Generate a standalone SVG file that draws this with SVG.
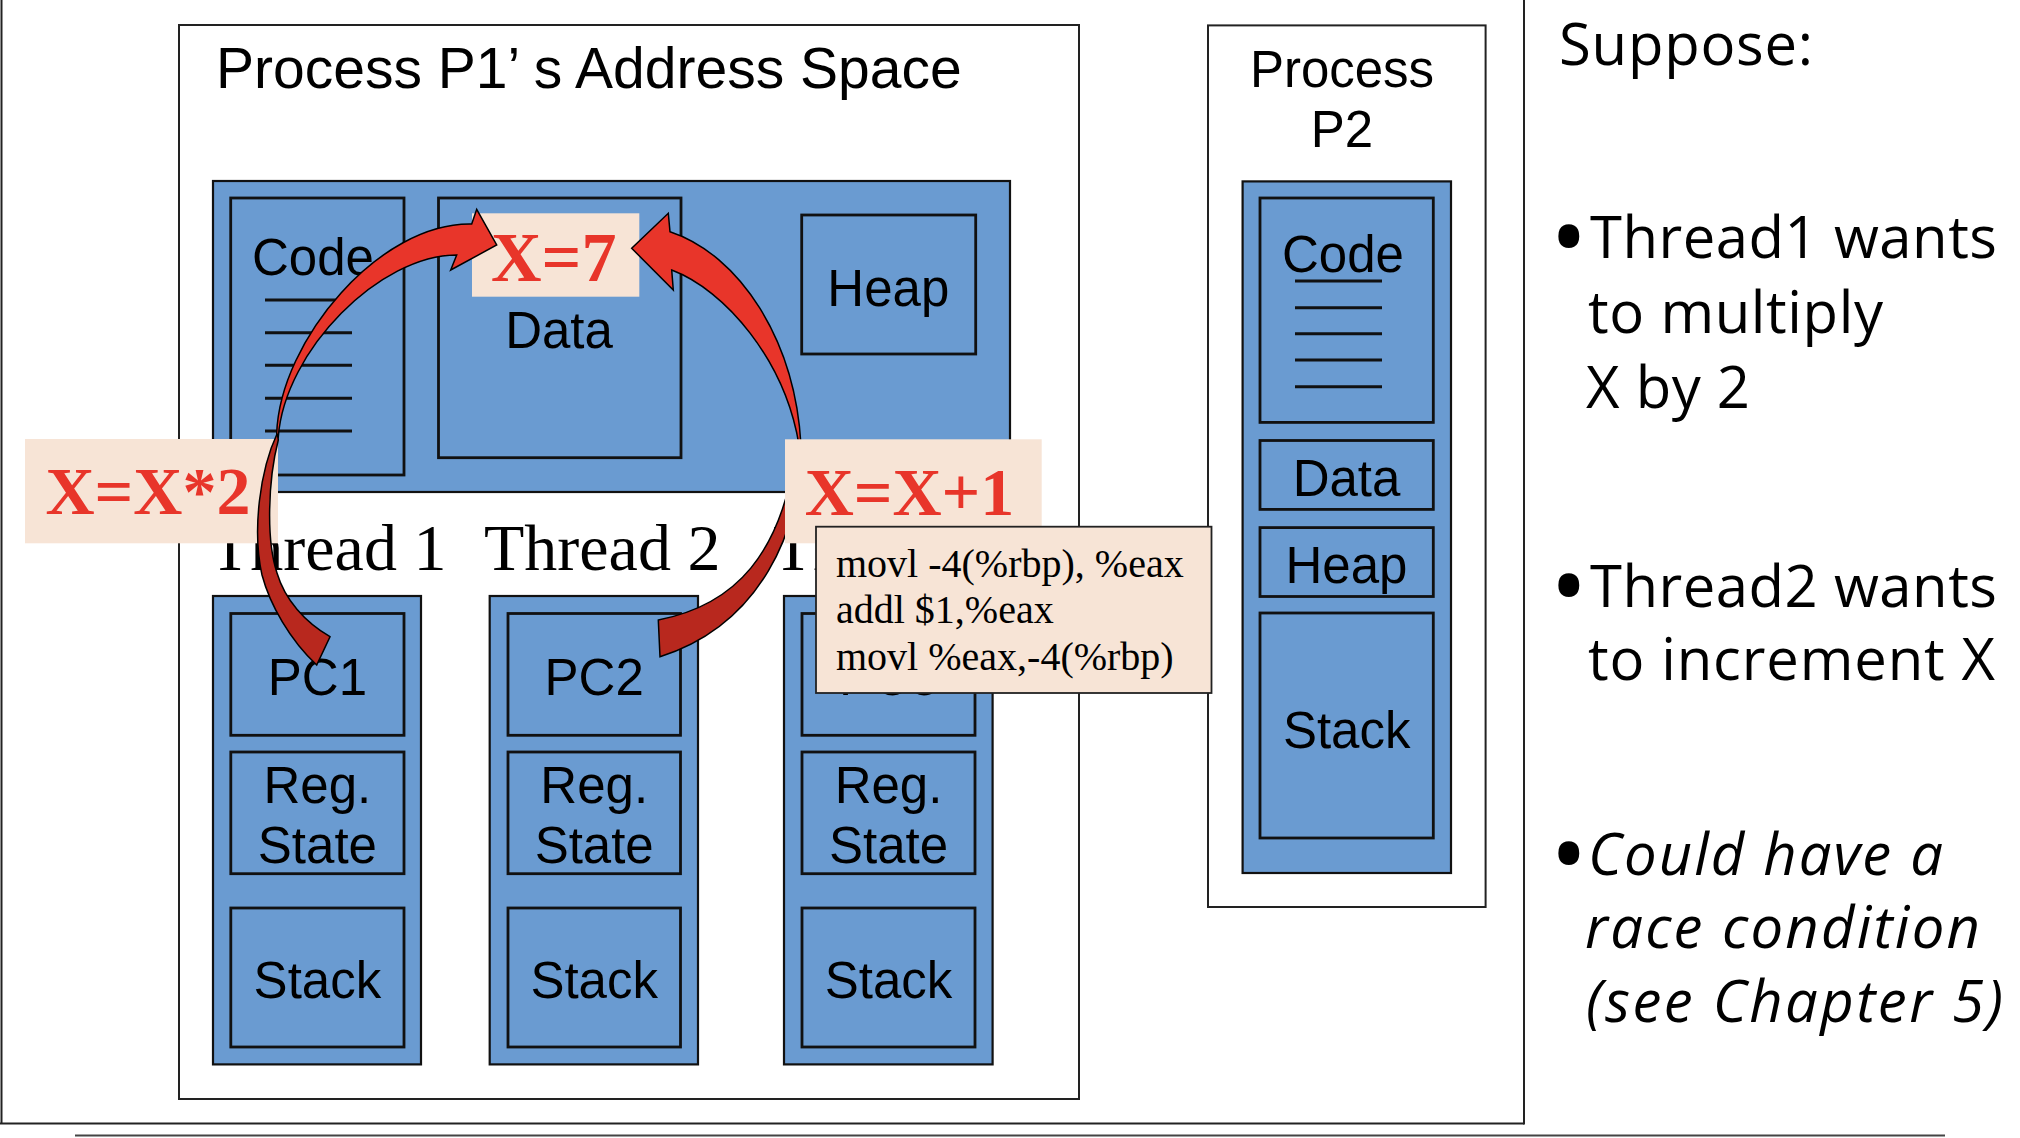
<svg xmlns="http://www.w3.org/2000/svg" width="2020" height="1138" viewBox="0 0 2020 1138">
<style>
.frame{fill:none;stroke:#222;stroke-width:2}
.proc{fill:#fff;stroke:#222;stroke-width:2}
.blue{fill:#6A9BD1;stroke:#111;stroke-width:2.2}
.box{fill:#6A9BD1;stroke:#111;stroke-width:2.8}
.ln{stroke:#111;stroke-width:3}
.sans{font-family:"Liberation Sans",Arial,sans-serif;fill:#000}
.serif{font-family:"Liberation Serif","Times New Roman",serif;fill:#000}
.lbl{font-size:51px;text-anchor:middle}
.red{font-family:"Liberation Serif","Times New Roman",serif;font-weight:bold;fill:#E8352A}
.peach{fill:#F7E4D6}
.side{font-family:"Open Sans","Noto Sans",sans-serif;font-size:58px;fill:#000}
.bul{font-family:"Open Sans","Noto Sans",sans-serif;font-size:100px;fill:#000}
.arrF{fill:#E8352A;stroke:#000;stroke-width:1.5;stroke-linejoin:miter}
.arrB{fill:#B8281E;stroke:#000;stroke-width:1.5}
</style>

<g id="slide-frame">
<line class="frame" x1="1.5" y1="0" x2="1.5" y2="1123.5"/>
<line class="frame" x1="0" y1="1123.5" x2="1524" y2="1123.5"/>
<line class="frame" x1="1524" y1="0" x2="1524" y2="1124.5"/>
</g>

<g id="p1">
<rect class="proc" x="179" y="25" width="900" height="1074"/>
<text class="sans" x="216" y="87.5" font-size="57">Process P1’ s Address Space</text>
</g>

<g id="p1-mem">
<rect class="blue" x="213" y="181" width="797" height="311"/>
<g id="p1-code">
<rect class="box" x="230.7" y="198" width="173.3" height="277"/>
<text class="sans lbl" x="313" y="275" font-size="50">Code</text>
<line class="ln" x1="265" y1="300" x2="352" y2="300"/>
<line class="ln" x1="265" y1="332.7" x2="352" y2="332.7"/>
<line class="ln" x1="265" y1="365.3" x2="352" y2="365.3"/>
<line class="ln" x1="265" y1="398.3" x2="352" y2="398.3"/>
<line class="ln" x1="265" y1="431" x2="352" y2="431"/>
</g>
<g id="p1-data">
<rect class="box" x="438.5" y="198" width="242.5" height="259.7"/>
<text class="sans lbl" x="559" y="348" font-size="50">Data</text>
</g>
<g id="p1-heap">
<rect class="box" x="801.7" y="215" width="174" height="139"/>
<text class="sans lbl" x="888.3" y="306" font-size="50">Heap</text>
</g>
</g>

<g id="thread-labels">
<text class="serif" x="210" y="570" font-size="66">Thread 1</text>
<text class="serif" x="484" y="570" font-size="66">Thread 2</text>
<text class="serif" x="773" y="570" font-size="66">Thread 3</text>
</g>

<g id="thread1">
<rect class="blue" x="213" y="596" width="208" height="468.4"/>
<rect class="box" x="230.8" y="613.5" width="173.2" height="121.8"/>
<text class="sans lbl" x="317.4" y="694.5">PC1</text>
<rect class="box" x="230.8" y="752" width="173.2" height="121.7"/>
<text class="sans lbl" x="317.4" y="803">Reg.</text>
<text class="sans lbl" x="317.4" y="863.4">State</text>
<rect class="box" x="230.8" y="908" width="173.2" height="139"/>
<text class="sans lbl" x="317.4" y="997.7">Stack</text>
</g>

<g id="thread2">
<rect class="blue" x="489.7" y="596" width="208.3" height="468.4"/>
<rect class="box" x="508" y="613.5" width="172.5" height="121.8"/>
<text class="sans lbl" x="594.2" y="694.5">PC2</text>
<rect class="box" x="508" y="752" width="172.5" height="121.7"/>
<text class="sans lbl" x="594.2" y="803">Reg.</text>
<text class="sans lbl" x="594.2" y="863.4">State</text>
<rect class="box" x="508" y="908" width="172.5" height="139"/>
<text class="sans lbl" x="594.2" y="997.7">Stack</text>
</g>

<g id="thread3">
<rect class="blue" x="784" y="596" width="208.6" height="468.4"/>
<rect class="box" x="802" y="613.5" width="173" height="121.8"/>
<text class="sans lbl" x="888.5" y="694.5">PC3</text>
<rect class="box" x="802" y="752" width="173" height="121.7"/>
<text class="sans lbl" x="888.5" y="803">Reg.</text>
<text class="sans lbl" x="888.5" y="863.4">State</text>
<rect class="box" x="802" y="908" width="173" height="139"/>
<text class="sans lbl" x="888.5" y="997.7">Stack</text>
</g>

<g id="x7">
<rect class="peach" x="472" y="213.3" width="167.3" height="83.4"/>
<text class="red" x="553.8" y="280.7" font-size="70" text-anchor="middle">X=7</text>
</g>

<g id="xmul">
<rect class="peach" x="25" y="439" width="253" height="104.3"/>
<text class="red" x="148" y="514" font-size="68" text-anchor="middle">X=X*2</text>
</g>

<g id="p2">
<rect class="proc" x="1208" y="25.4" width="277.6" height="881.6"/>
<text class="sans" x="1342" y="87" font-size="51" text-anchor="middle">Process</text>
<text class="sans" x="1342" y="147.3" font-size="51" text-anchor="middle">P2</text>
<rect class="blue" x="1242.6" y="181.4" width="208.4" height="691.6"/>
<g id="p2-code">
<rect class="box" x="1260" y="198" width="173.3" height="224.4"/>
<text class="sans lbl" x="1343" y="272" font-size="50">Code</text>
<line class="ln" x1="1295" y1="281" x2="1382" y2="281"/>
<line class="ln" x1="1295" y1="307.7" x2="1382" y2="307.7"/>
<line class="ln" x1="1295" y1="333.8" x2="1382" y2="333.8"/>
<line class="ln" x1="1295" y1="360" x2="1382" y2="360"/>
<line class="ln" x1="1295" y1="386.8" x2="1382" y2="386.8"/>
</g>
<g id="p2-data">
<rect class="box" x="1260" y="440.5" width="173.3" height="68.9"/>
<text class="sans lbl" x="1346.5" y="495.6" font-size="50">Data</text>
</g>
<g id="p2-heap">
<rect class="box" x="1260" y="527.6" width="173.3" height="68.9"/>
<text class="sans lbl" x="1346.5" y="582.7" font-size="50">Heap</text>
</g>
<g id="p2-stack">
<rect class="box" x="1260" y="613" width="173.3" height="225"/>
<text class="sans lbl" x="1346.7" y="747.5" font-size="50">Stack</text>
</g>
</g>

<g id="connectors">
<g id="arrow-t1">
<path class="arrB" d="M277.3,433.3 C260,470 252,530 262,575 C270,605 290,640 316.7,665 L330,636.7 C305,622 285,600 277,573 C266,540 268,480 278.3,440 Z"/>
<path class="arrF" d="M456.7,255 L450.7,270 L496.7,245 L476.7,209.3 L471.7,224 C380,222 280,340 276.7,433.3 L278.3,436.7 C285,350 380,255 456.7,255 Z"/>
</g>
<g id="arrow-t2">
<path class="arrB" d="M801,445 C802,530 760,625 660,656.7 L658.3,620 C735,605 782,555 797,445 Z"/>
<path class="arrF" d="M671.7,270 L673.3,290 L631.7,248.3 L668.3,213.3 L670,231.7 C740,255 795,340 801,445 L799,445 C785,360 725,290 671.7,270 Z"/>
</g>
</g>

<g id="xinc">
<rect class="peach" x="785" y="439.3" width="256.7" height="104"/>
<text class="red" x="909.5" y="515" font-size="68" text-anchor="middle">X=X+1</text>
</g>

<g id="asm">
<rect fill="#F7E4D6" stroke="#222" stroke-width="1.8" x="816" y="526.7" width="395.5" height="166.3"/>
<text class="serif" x="836" y="577" font-size="40">movl -4(%rbp), %eax</text>
<text class="serif" x="836" y="623" font-size="40">addl $1,%eax</text>
<text class="serif" x="836" y="670" font-size="40">movl %eax,-4(%rbp)</text>
</g>

<g id="notes">
<text class="side" x="1559" y="65" font-size="60" textLength="254">Suppose:</text>
<text class="bul" x="1550" y="273">•</text>
<text class="side" x="1590" y="258.3" textLength="407">Thread1 wants</text>
<text class="side" x="1588" y="333.3" textLength="295">to multiply</text>
<text class="side" x="1586" y="408.3" textLength="164">X by 2</text>
<text class="bul" x="1550" y="621.5">•</text>
<text class="side" x="1590" y="606.7" textLength="407">Thread2 wants</text>
<text class="side" x="1588" y="680" textLength="407">to increment X</text>
<text class="bul" x="1550" y="890">•</text>
<text class="side" x="1588" y="875" font-style="italic" textLength="355">Could have a</text>
<text class="side" x="1585" y="948.3" font-style="italic" textLength="395">race condition</text>
<text class="side" x="1586" y="1022" font-style="italic" textLength="417">(see Chapter 5)</text>
</g>

<line x1="75" y1="1135.5" x2="1945" y2="1135.5" stroke="#444" stroke-width="2"/>
</svg>
